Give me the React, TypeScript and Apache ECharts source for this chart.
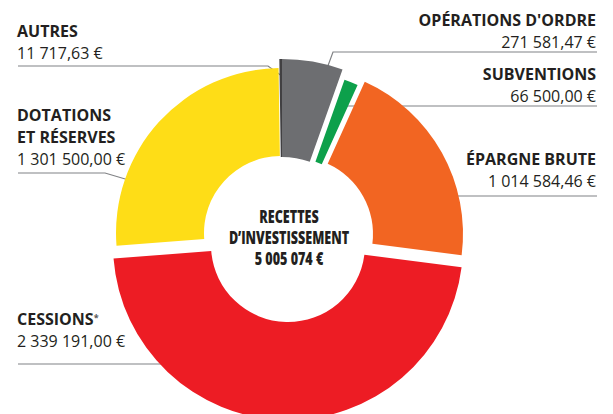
import React, { useEffect, useRef } from 'react';
import * as echarts from 'echarts';

// ---- data ----
const categories = ["OPÉRATIONS D'ORDRE", 'SUBVENTIONS', 'ÉPARGNE BRUTE', 'CESSIONS*', 'DOTATIONS\nET RÉSERVES', 'AUTRES'];
const values = [271581.47, 66500.0, 1014584.46, 2339191.0, 1301500.0, 11717.63];
const colors = ['#6D6E71', '#0DA04B', '#F26522', '#ED1C24', '#FEDD17', '#414042'];
const centerTitle = ['RECETTES', 'D’INVESTISSEMENT'];

// ---- layout (positions / sizes) ----
const sliceLayout: { center: [number, number]; radius: [number, number] }[] = [
  { center: [282, 240], radius: [83, 181] },
  { center: [288, 239], radius: [82, 169] },
  { center: [296, 234], radius: [77, 167] },
  { center: [288, 245], radius: [77, 175] },
  { center: [281, 233], radius: [77, 165] },
  { center: [282, 240], radius: [83, 181] },
];

const labelAnchors = [
  { side: 'right', lineY: 52, bottom: 53, start: [322, 82], elbowX: 333 },
  { side: 'right', lineY: 106, bottom: 107, start: [331, 128], elbowX: 345 },
  { side: 'right', lineY: 196, bottom: 192, start: [413, 215], elbowX: 440 },
  { side: 'left', lineY: 364, bottom: 352, start: [195, 379], elbowX: 170 },
  { side: 'left', lineY: 173, bottom: 170, start: [132, 181], elbowX: 105 },
  { side: 'left', lineY: 66, bottom: 64, start: [280.5, 75], elbowX: 268 },
];
const LEFT_X = 18;
const RIGHT_X = 597;

const TEXT = '#231F20';
const LINE = '#808285';
const LABEL_FONT = '"Open Sans", "Noto Sans", sans-serif';
const CENTER_FONT = '"Open Sans", "Noto Sans", sans-serif';

function fmtFr(n: number, decimals: number): string {
  const fixed = decimals > 0 ? n.toFixed(decimals) : String(Math.trunc(n));
  const parts = fixed.split('.');
  const grouped = parts[0].replace(/\B(?=(\d{3})+(?!\d))/g, ' ');
  return parts[1] ? `${grouped},${parts[1]}` : grouped;
}

export default function App() {
  const ref = useRef<HTMLDivElement>(null);

  useEffect(() => {
    document.body.style.margin = '0';
    if (!ref.current) return;
    const chart = echarts.init(ref.current, null, { renderer: 'svg' });
    const total = values.reduce((a, b) => a + b, 0);

    const series = categories.map((_, k) => {
      const a = labelAnchors[k];
      return {
        type: 'pie',
        center: sliceLayout[k].center,
        radius: sliceLayout[k].radius,
        startAngle: 90,
        clockwise: true,
        avoidLabelOverlap: false,
        silent: true,
        emphasis: { disabled: true },
        data: categories.map((name, i) => ({
          name,
          value: values[i],
          itemStyle: { color: i === k ? colors[i] : 'rgba(0,0,0,0)' },
          label: { show: i === k },
          labelLine: { show: i === k },
        })),
        label: {
          position: 'outside',
          formatter: (p: any) => {
            const lines = String(p.name).split('\n');
            const title = lines
              .map((l) => (l.endsWith('*') ? `{t|${l.slice(0, -1)}}{s|*}` : `{t|${l}}`))
              .join('\n');
            return `${title}\n{v|${fmtFr(p.value, 2)} €}`;
          },
          rich: {
            t: { fontFamily: LABEL_FONT, fontWeight: 'bold', fontSize: 16, color: TEXT, lineHeight: 22 },
            s: { fontFamily: LABEL_FONT, fontWeight: 'bold', fontSize: 9, color: '#58595B', lineHeight: 22, padding: [0, 0, 3, 0] },
            v: { fontFamily: LABEL_FONT, fontSize: 16, color: TEXT, lineHeight: 22 },
          },
        },
        labelLine: { show: true, lineStyle: { color: LINE, width: 1.2 } },
        labelLayout: () => ({
          x: a.side === 'right' ? RIGHT_X - 1 : LEFT_X - 1,
          y: a.bottom,
          align: a.side === 'right' ? 'right' : 'left',
          verticalAlign: 'bottom',
          labelLinePoints: [
            a.start,
            [a.elbowX, a.lineY],
            [a.side === 'right' ? RIGHT_X : LEFT_X, a.lineY],
          ],
        }),
      };
    });

    chart.setOption({
      animation: false,
      series,
      graphic: [
        {
          type: 'text',
          x: 289,
          y: 237,
          scaleX: 0.74,
          style: {
            text: `${centerTitle.join('\n')}\n${fmtFr(total, 0)} €`,
            align: 'center',
            verticalAlign: 'middle',
            fontFamily: CENTER_FONT,
            fontWeight: 800,
            fontSize: 17,
            lineHeight: 21,
            fill: TEXT,
          },
        },
      ],
    });
    return () => chart.dispose();
  }, []);

  return <div ref={ref} style={{ width: 613, height: 414 }} />;
}
